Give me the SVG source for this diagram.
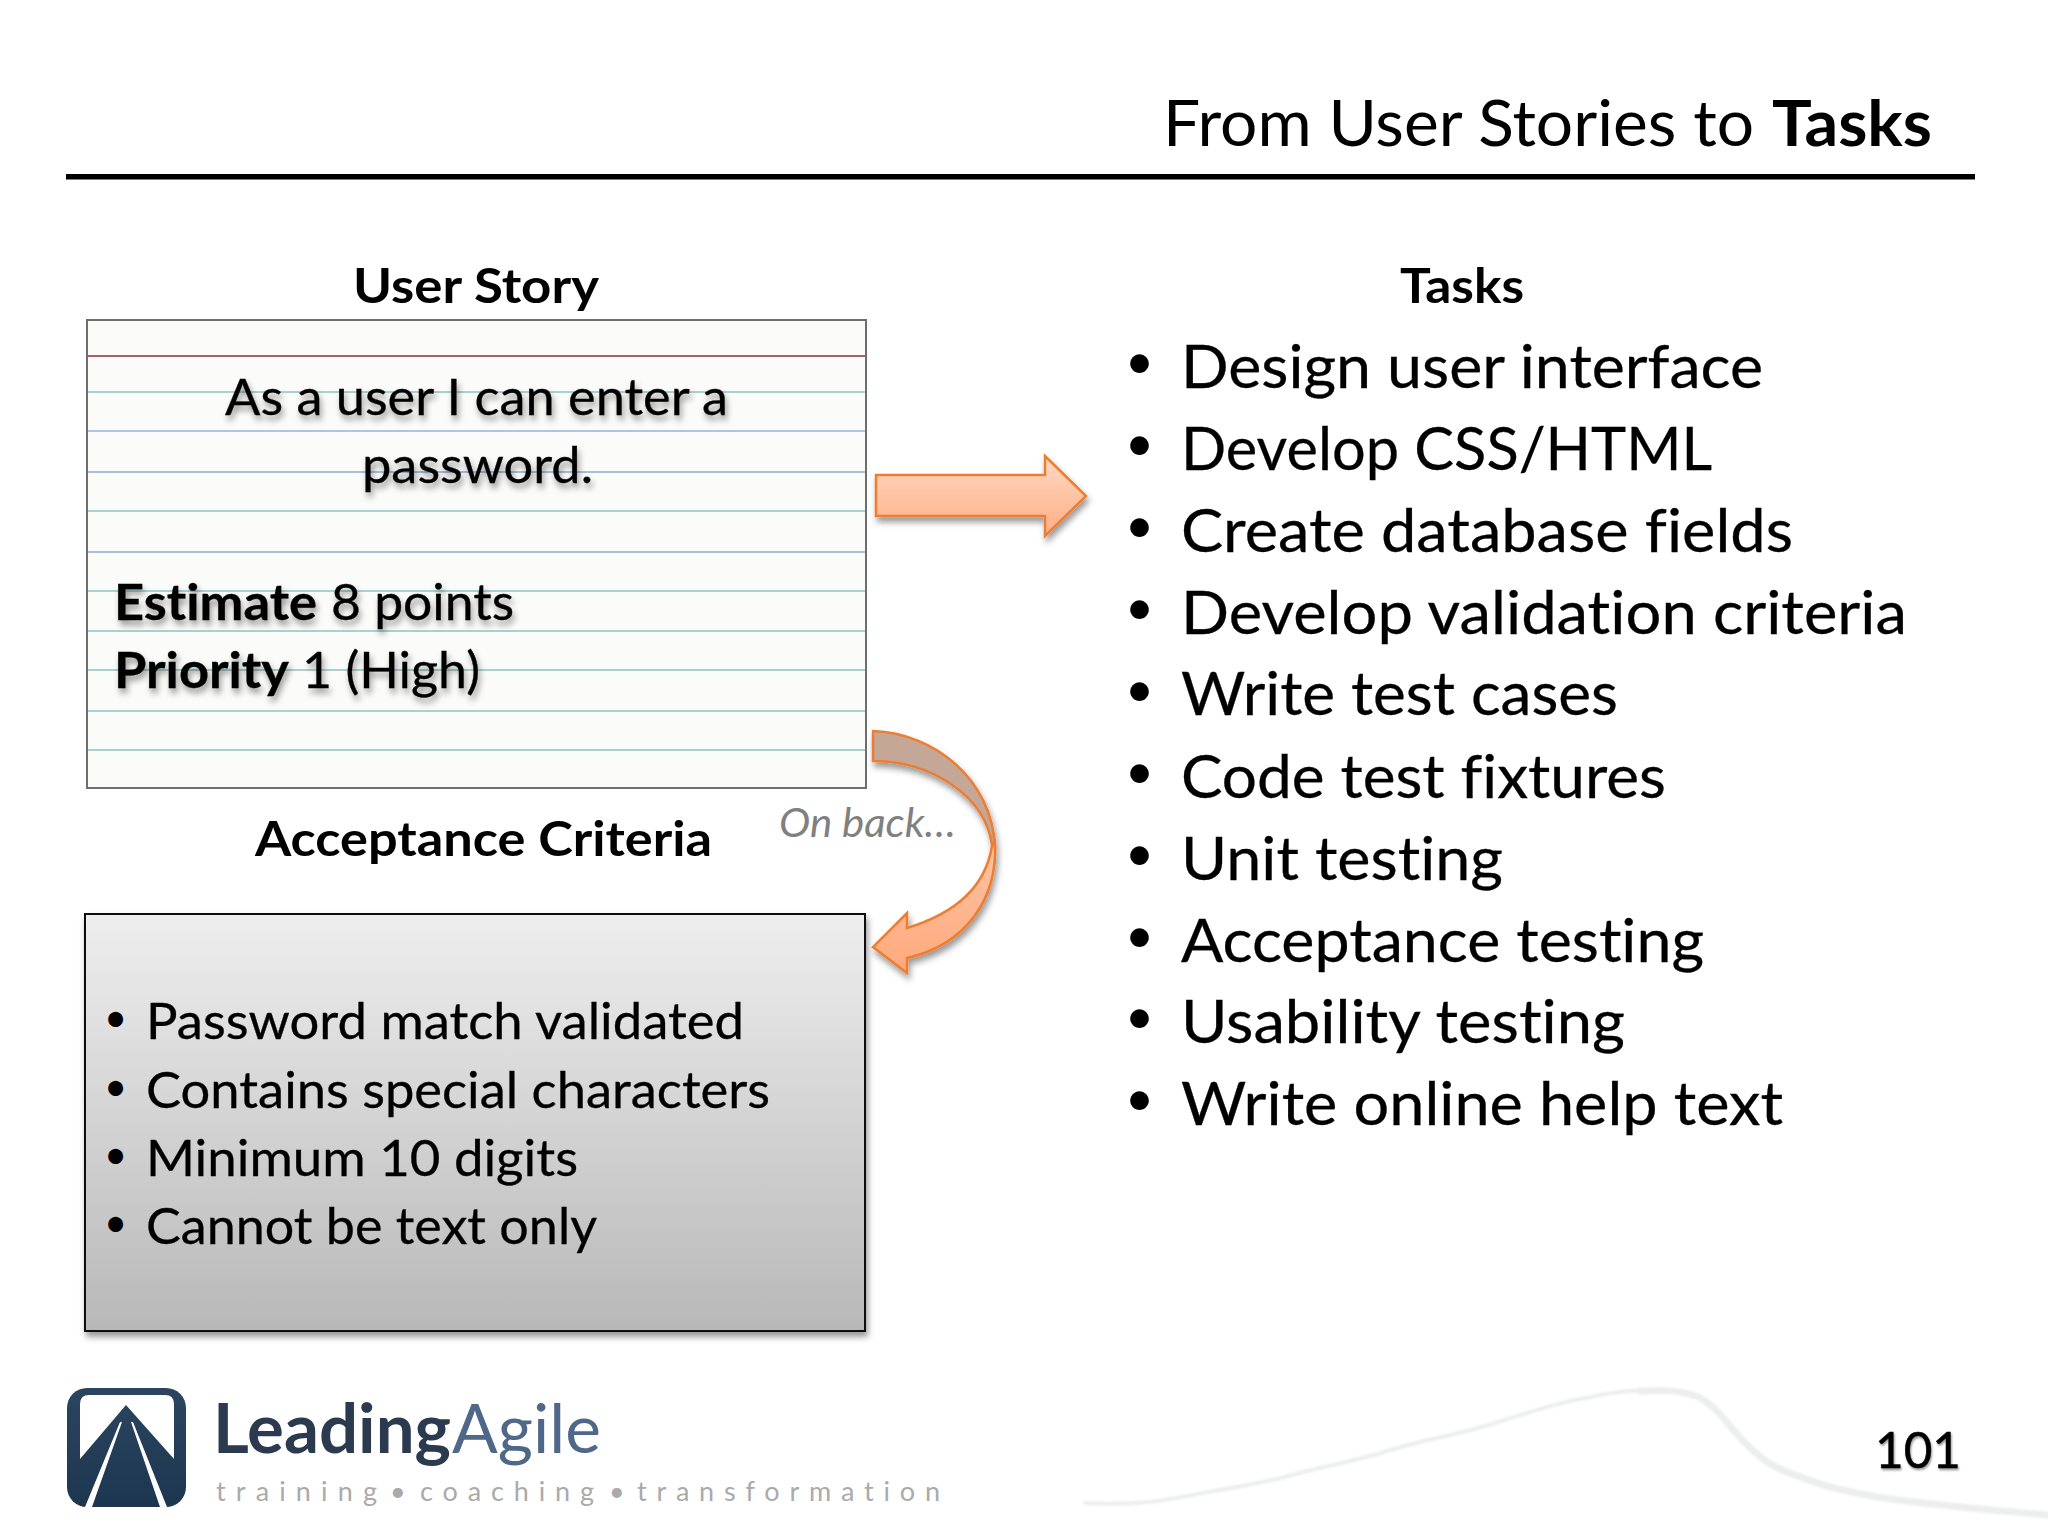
<svg xmlns="http://www.w3.org/2000/svg" width="2048" height="1536" viewBox="0 0 2048 1536">
<style>
text{font-family:Lato,"Open Sans",sans-serif;fill:#000;font-variant-ligatures:none}
.h{font-weight:700;font-size:48px}
.t{font-size:60px;stroke:#000;stroke-width:.3}
.b{font-size:50px;stroke:#000;stroke-width:.3}
.bul{font-size:50px}
.bul2{font-size:40px}
.card{font-size:50px;stroke:#000;stroke-width:.3}
.bold{font-weight:700}
.shadowed{filter:url(#ts)}
.rule{stroke-width:2;fill:none;filter:url(#blur1)}
.orange{stroke:#ed7d31;stroke-width:2.5;stroke-linejoin:miter}
</style>
<defs>
<linearGradient id="grey" x1="0" y1="0" x2="0" y2="1"><stop offset="0" stop-color="#eeeeee"/><stop offset="1" stop-color="#b8b8b8"/></linearGradient>
<linearGradient id="peach" x1="0" y1="0" x2="0" y2="1"><stop offset="0" stop-color="#fdd9c3"/><stop offset="1" stop-color="#ffae86"/></linearGradient>
<linearGradient id="peach2" x1="0" y1="0" x2="0" y2="1"><stop offset="0" stop-color="#fdc4a3"/><stop offset="1" stop-color="#ffa97c"/></linearGradient>
<linearGradient id="navy" x1="0" y1="0" x2="0" y2="1"><stop offset="0" stop-color="#2b4560"/><stop offset="1" stop-color="#1d3650"/></linearGradient>
<filter id="ts" x="-5%" y="-20%" width="110%" height="150%"><feDropShadow dx="2" dy="5" stdDeviation="3" flood-color="#000" flood-opacity="0.4"/></filter>
<filter id="ts2" x="-5%" y="-20%" width="110%" height="150%"><feDropShadow dx="1" dy="2" stdDeviation="1" flood-color="#000" flood-opacity="0.4"/></filter>
<filter id="ds" x="-10%" y="-10%" width="120%" height="125%"><feDropShadow dx="2" dy="5" stdDeviation="3" flood-color="#000" flood-opacity="0.4"/></filter>
<filter id="blur1" x="-1%" y="-50%" width="102%" height="200%"><feGaussianBlur stdDeviation="0.7"/></filter>
<filter id="blur2" x="-2%" y="-10%" width="104%" height="120%"><feGaussianBlur stdDeviation="1"/></filter>
</defs>
<rect width="2048" height="1536" fill="#fff"/>

<g id="title">
<text y="146" font-size="64"><tspan x="1163" textLength="591" lengthAdjust="spacingAndGlyphs">From User Stories to</tspan> <tspan x="1772" textLength="160" lengthAdjust="spacingAndGlyphs" class="bold">Tasks</tspan></text>
<rect x="66" y="174" width="1909" height="5.5" fill="#000"/>
</g>

<g id="user-story">
<text class="h" x="353" y="303" textLength="246" lengthAdjust="spacingAndGlyphs">User Story</text>
<g id="card">
<rect x="87" y="320" width="779" height="468" fill="#fbfcfa"/>
<g class="rule">
<path d="M87 356H866" stroke="#a8606e"/>
<path d="M87 392H866" stroke="#a9d0d2"/>
<path d="M87 431H866" stroke="#adc4e4"/>
<path d="M87 472H866" stroke="#a8bede"/>
<path d="M87 511H866" stroke="#a9d0d2"/>
<path d="M87 552H866" stroke="#a8bede"/>
<path d="M87 591H866" stroke="#a9d0d2"/>
<path d="M87 631H866" stroke="#a9d0d2"/>
<path d="M87 670H866" stroke="#a9d0d2"/>
<path d="M87 711H866" stroke="#a9d0d2"/>
<path d="M87 750H866" stroke="#a9d0d2"/>
</g>
<rect x="87" y="320" width="779" height="468" fill="none" stroke="#6e6e6e" stroke-width="2"/>
<g class="shadowed">
<text class="card" x="225" y="415" textLength="503" lengthAdjust="spacingAndGlyphs">As a user I can enter a</text>
<text class="card" x="362" y="483" textLength="231" lengthAdjust="spacingAndGlyphs">password.</text>
<text class="card" y="620"><tspan x="114" textLength="203" lengthAdjust="spacingAndGlyphs" class="bold">Estimate</tspan> <tspan x="331" textLength="183" lengthAdjust="spacingAndGlyphs">8 points</tspan></text>
<text class="card" y="688"><tspan x="114" textLength="175" lengthAdjust="spacingAndGlyphs" class="bold">Priority</tspan> <tspan x="302" textLength="178" lengthAdjust="spacingAndGlyphs">1 (High)</tspan></text>
</g>
</g>
</g>

<g id="acceptance-criteria">
<text class="h" x="255" y="856" textLength="457" lengthAdjust="spacingAndGlyphs">Acceptance Criteria</text>
<rect x="85" y="914" width="780" height="417" fill="url(#grey)" stroke="#111" stroke-width="2" filter="url(#ds)"/>
<text class="bul2" x="104" y="1032">•</text><text class="b" x="146" y="1039" textLength="598" lengthAdjust="spacingAndGlyphs">Password match validated</text>
<text class="bul2" x="104" y="1101">•</text><text class="b" x="146" y="1108" textLength="624" lengthAdjust="spacingAndGlyphs">Contains special characters</text>
<text class="bul2" x="104" y="1169">•</text><text class="b" x="146" y="1176" textLength="432" lengthAdjust="spacingAndGlyphs">Minimum 10 digits</text>
<text class="bul2" x="104" y="1237">•</text><text class="b" x="146" y="1244" textLength="451" lengthAdjust="spacingAndGlyphs">Cannot be text only</text>
</g>

<g id="tasks">
<text class="h" x="1400" y="303" textLength="124" lengthAdjust="spacingAndGlyphs">Tasks</text>
<text class="bul" x="1125" y="379">•</text><text class="t" x="1181" y="388" textLength="582" lengthAdjust="spacingAndGlyphs">Design user interface</text>
<text class="bul" x="1125" y="461">•</text><text class="t" x="1181" y="470" textLength="531" lengthAdjust="spacingAndGlyphs">Develop CSS/HTML</text>
<text class="bul" x="1125" y="543">•</text><text class="t" x="1181" y="552" textLength="612" lengthAdjust="spacingAndGlyphs">Create database fields</text>
<text class="bul" x="1125" y="625">•</text><text class="t" x="1181" y="634" textLength="726" lengthAdjust="spacingAndGlyphs">Develop validation criteria</text>
<text class="bul" x="1125" y="707">•</text><text class="t" x="1181" y="715" textLength="437" lengthAdjust="spacingAndGlyphs">Write test cases</text>
<text class="bul" x="1125" y="789">•</text><text class="t" x="1181" y="798" textLength="485" lengthAdjust="spacingAndGlyphs">Code test fixtures</text>
<text class="bul" x="1125" y="871">•</text><text class="t" x="1181" y="880" textLength="322" lengthAdjust="spacingAndGlyphs">Unit testing</text>
<text class="bul" x="1125" y="953">•</text><text class="t" x="1181" y="962" textLength="523" lengthAdjust="spacingAndGlyphs">Acceptance testing</text>
<text class="bul" x="1125" y="1034">•</text><text class="t" x="1181" y="1043" textLength="444" lengthAdjust="spacingAndGlyphs">Usability testing</text>
<text class="bul" x="1125" y="1116">•</text><text class="t" x="1181" y="1125" textLength="602" lengthAdjust="spacingAndGlyphs">Write online help text</text>
</g>

<g id="connectors">
<path id="arrow-straight" class="orange" fill="url(#peach)" filter="url(#ds)" d="M876 475H1045V456L1086 496L1045 536V516H876Z"/>
<g id="arrow-curved" filter="url(#ds)">
<path class="orange" fill="#c4a797" d="M873 731C935 733 992 780 995 847L992 845C985 795 930 761 873 761Z"/>
<path class="orange" fill="url(#peach2)" d="M995 842C998 900 965 945 907 958V973L873 947L907 913V928C950 915 985 890 992 846Z"/>
</g>
<text x="779" y="837" font-size="41" font-style="italic" style="fill:#808080" textLength="177" lengthAdjust="spacingAndGlyphs">On back…</text>
</g>

<g id="logo">
<rect x="67" y="1388" width="119" height="119" rx="20" fill="url(#navy)"/>
<path d="M80 1459V1404Q80 1395 89 1395H165Q174 1395 174 1404V1459L126 1405Z" fill="#fff"/>
<path d="M120 1422L85 1507H92L122 1422ZM133 1422L167 1507H160L131 1422Z" fill="#fff"/>
<text y="1453" font-size="68"><tspan x="213" textLength="238" lengthAdjust="spacingAndGlyphs" class="bold" style="fill:#2b3a4e">Leading</tspan><tspan x="452" textLength="149" lengthAdjust="spacingAndGlyphs" style="fill:#4f688a">Agile</tspan></text>
<text y="1501" font-size="27" style="fill:#aaaaaa"><tspan x="216" textLength="161">training</tspan><tspan x="390">•</tspan><tspan x="420" textLength="174">coaching</tspan><tspan x="609">•</tspan><tspan x="637" textLength="303">transformation</tspan></text>
</g>

<g id="swoosh" fill="none" stroke="#eceeee" stroke-linecap="round" filter="url(#blur2)">
<path stroke-width="4" d="M1085 1503C1120 1505 1150 1503 1177 1498C1215 1490 1250 1486 1285 1477C1320 1467 1350 1462 1381 1453C1420 1440 1455 1436 1495 1423C1530 1412 1560 1402 1591 1397C1615 1391 1635 1390 1655 1390"/>
<path stroke-width="7" d="M1640 1391C1670 1389 1685 1392 1699 1397C1712 1405 1718 1412 1725 1420C1735 1432 1745 1444 1756 1453C1770 1466 1785 1472 1801 1477C1825 1487 1850 1492 1877 1497C1930 1505 1990 1510 2048 1515"/>
</g>

<g id="page-number">
<text x="1875" y="1468" font-size="50" textLength="86" lengthAdjust="spacingAndGlyphs" stroke="#000" stroke-width=".5" filter="url(#ts2)">101</text>
</g>
</svg>
